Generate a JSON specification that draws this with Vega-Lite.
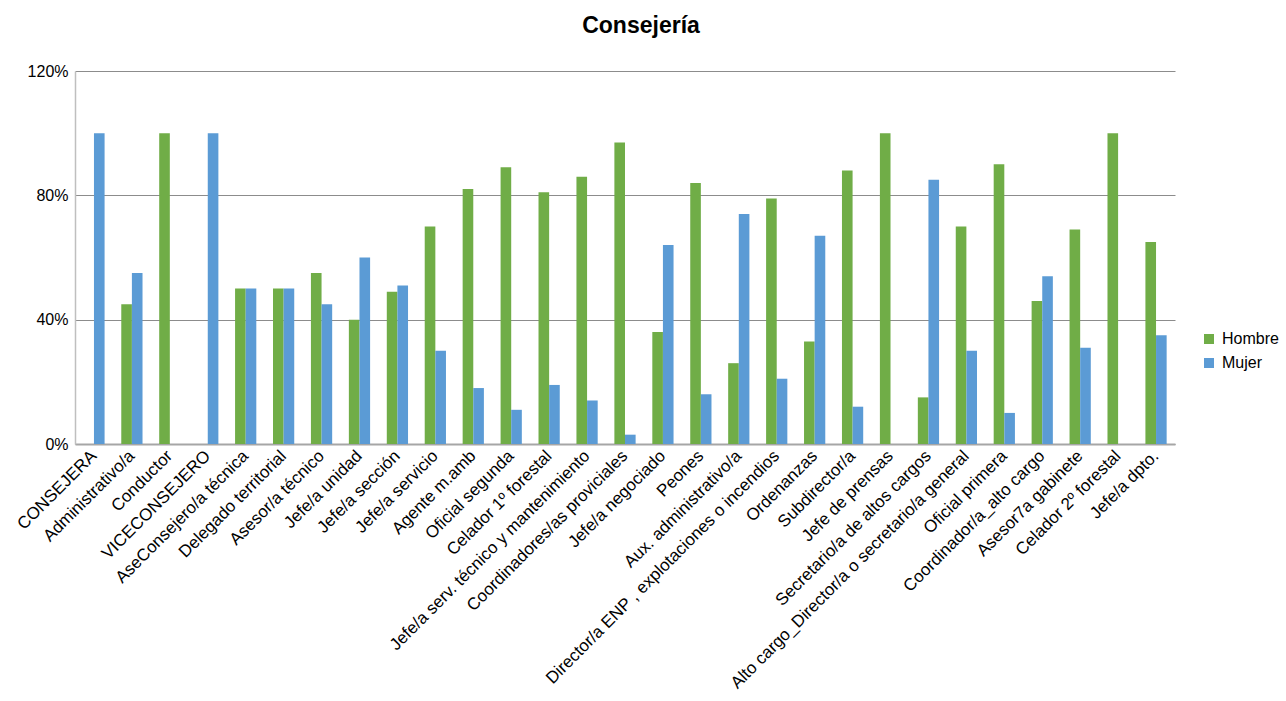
{
  "$schema": "https://vega.github.io/schema/vega-lite/v6.json",
  "autosize": {"type": "none"},
  "width": 1100,
  "height": 373,
  "padding": {"left": 75, "top": 71, "right": 111, "bottom": 257},
  "background": "white",
  "title": {
    "text": "Consejería",
    "font": "Liberation Sans",
    "fontSize": 23,
    "fontWeight": "bold",
    "color": "#000000",
    "anchor": "middle",
    "frame": "group",
    "dx": 16,
    "offset": 25
  },
  "config": {
    "view": {"stroke": null},
    "font": "Liberation Sans"
  },
  "data": {
    "values": [
      {"puesto": "CONSEJERA", "sexo": "Hombre", "valor": 0},
      {"puesto": "CONSEJERA", "sexo": "Mujer", "valor": 1.0},
      {"puesto": "Administrativo/a", "sexo": "Hombre", "valor": 0.45},
      {"puesto": "Administrativo/a", "sexo": "Mujer", "valor": 0.55},
      {"puesto": "Conductor", "sexo": "Hombre", "valor": 1.0},
      {"puesto": "Conductor", "sexo": "Mujer", "valor": 0},
      {"puesto": "VICECONSEJERO", "sexo": "Hombre", "valor": 0},
      {"puesto": "VICECONSEJERO", "sexo": "Mujer", "valor": 1.0},
      {"puesto": "AseConsejero/a técnica", "sexo": "Hombre", "valor": 0.5},
      {"puesto": "AseConsejero/a técnica", "sexo": "Mujer", "valor": 0.5},
      {"puesto": "Delegado territorial", "sexo": "Hombre", "valor": 0.5},
      {"puesto": "Delegado territorial", "sexo": "Mujer", "valor": 0.5},
      {"puesto": "Asesor/a técnico", "sexo": "Hombre", "valor": 0.55},
      {"puesto": "Asesor/a técnico", "sexo": "Mujer", "valor": 0.45},
      {"puesto": "Jefe/a unidad", "sexo": "Hombre", "valor": 0.4},
      {"puesto": "Jefe/a unidad", "sexo": "Mujer", "valor": 0.6},
      {"puesto": "Jefe/a sección", "sexo": "Hombre", "valor": 0.49},
      {"puesto": "Jefe/a sección", "sexo": "Mujer", "valor": 0.51},
      {"puesto": "Jefe/a servicio", "sexo": "Hombre", "valor": 0.7},
      {"puesto": "Jefe/a servicio", "sexo": "Mujer", "valor": 0.3},
      {"puesto": "Agente m.amb", "sexo": "Hombre", "valor": 0.82},
      {"puesto": "Agente m.amb", "sexo": "Mujer", "valor": 0.18},
      {"puesto": "Oficial segunda", "sexo": "Hombre", "valor": 0.89},
      {"puesto": "Oficial segunda", "sexo": "Mujer", "valor": 0.11},
      {"puesto": "Celador 1º forestal", "sexo": "Hombre", "valor": 0.81},
      {"puesto": "Celador 1º forestal", "sexo": "Mujer", "valor": 0.19},
      {"puesto": "Jefe/a serv. técnico y mantenimiento", "sexo": "Hombre", "valor": 0.86},
      {"puesto": "Jefe/a serv. técnico y mantenimiento", "sexo": "Mujer", "valor": 0.14},
      {"puesto": "Coordinadores/as proviciales", "sexo": "Hombre", "valor": 0.97},
      {"puesto": "Coordinadores/as proviciales", "sexo": "Mujer", "valor": 0.03},
      {"puesto": "Jefe/a negociado", "sexo": "Hombre", "valor": 0.36},
      {"puesto": "Jefe/a negociado", "sexo": "Mujer", "valor": 0.64},
      {"puesto": "Peones", "sexo": "Hombre", "valor": 0.84},
      {"puesto": "Peones", "sexo": "Mujer", "valor": 0.16},
      {"puesto": "Aux. administrativo/a", "sexo": "Hombre", "valor": 0.26},
      {"puesto": "Aux. administrativo/a", "sexo": "Mujer", "valor": 0.74},
      {"puesto": "Director/a ENP , explotaciones o incendios", "sexo": "Hombre", "valor": 0.79},
      {"puesto": "Director/a ENP , explotaciones o incendios", "sexo": "Mujer", "valor": 0.21},
      {"puesto": "Ordenanzas", "sexo": "Hombre", "valor": 0.33},
      {"puesto": "Ordenanzas", "sexo": "Mujer", "valor": 0.67},
      {"puesto": "Subdirector/a", "sexo": "Hombre", "valor": 0.88},
      {"puesto": "Subdirector/a", "sexo": "Mujer", "valor": 0.12},
      {"puesto": "Jefe de prensas", "sexo": "Hombre", "valor": 1.0},
      {"puesto": "Jefe de prensas", "sexo": "Mujer", "valor": 0},
      {"puesto": "Secretario/a de altos cargos", "sexo": "Hombre", "valor": 0.15},
      {"puesto": "Secretario/a de altos cargos", "sexo": "Mujer", "valor": 0.85},
      {"puesto": "Alto cargo_Director/a o secretario/a general", "sexo": "Hombre", "valor": 0.7},
      {"puesto": "Alto cargo_Director/a o secretario/a general", "sexo": "Mujer", "valor": 0.3},
      {"puesto": "Oficial primera", "sexo": "Hombre", "valor": 0.9},
      {"puesto": "Oficial primera", "sexo": "Mujer", "valor": 0.1},
      {"puesto": "Coordinador/a_alto cargo", "sexo": "Hombre", "valor": 0.46},
      {"puesto": "Coordinador/a_alto cargo", "sexo": "Mujer", "valor": 0.54},
      {"puesto": "Asesor7a gabinete", "sexo": "Hombre", "valor": 0.69},
      {"puesto": "Asesor7a gabinete", "sexo": "Mujer", "valor": 0.31},
      {"puesto": "Celador 2º forestal", "sexo": "Hombre", "valor": 1.0},
      {"puesto": "Celador 2º forestal", "sexo": "Mujer", "valor": 0},
      {"puesto": "Jefe/a dpto.", "sexo": "Hombre", "valor": 0.65},
      {"puesto": "Jefe/a dpto.", "sexo": "Mujer", "valor": 0.35}
    ]
  },
  "mark": {"type": "bar"},
  "encoding": {
    "x": {
      "field": "puesto",
      "type": "nominal",
      "sort": null,
      "scale": {"paddingInner": 0.44, "paddingOuter": 0.22},
      "axis": {
        "title": null,
        "labelAngle": -45,
        "labelAlign": "right",
        "labelBaseline": "middle",
        "labelFontSize": 17,
        "labelColor": "#000000",
        "labelPadding": 9,
        "labelLimit": 0,
        "labelOverlap": false,
        "ticks": false,
        "domainColor": "#A6A6A6",
        "domainWidth": 2,
        "grid": false
      }
    },
    "xOffset": {
      "field": "sexo",
      "type": "nominal",
      "scale": {"paddingInner": 0, "paddingOuter": 0}
    },
    "y": {
      "field": "valor",
      "type": "quantitative",
      "scale": {"domain": [0, 1.2], "nice": false},
      "axis": {
        "title": null,
        "values": [0, 0.4, 0.8, 1.2],
        "format": ".0%",
        "labelFontSize": 16,
        "labelColor": "#000000",
        "labelPadding": 7,
        "ticks": false,
        "domainColor": "#BFBFBF",
        "domainWidth": 1.5,
        "gridColor": "#8C8C8C",
        "gridWidth": 1
      }
    },
    "color": {
      "field": "sexo",
      "type": "nominal",
      "scale": {"domain": ["Hombre", "Mujer"], "range": ["#70AD47", "#5B9BD5"]},
      "legend": {
        "title": null,
        "orient": "none",
        "legendX": 1126,
        "legendY": 260,
        "symbolType": "square",
        "symbolSize": 100,
        "symbolStrokeWidth": 0,
        "labelFontSize": 16,
        "labelColor": "#000000",
        "labelOffset": 5,
        "rowPadding": 8
      }
    }
  }
}
